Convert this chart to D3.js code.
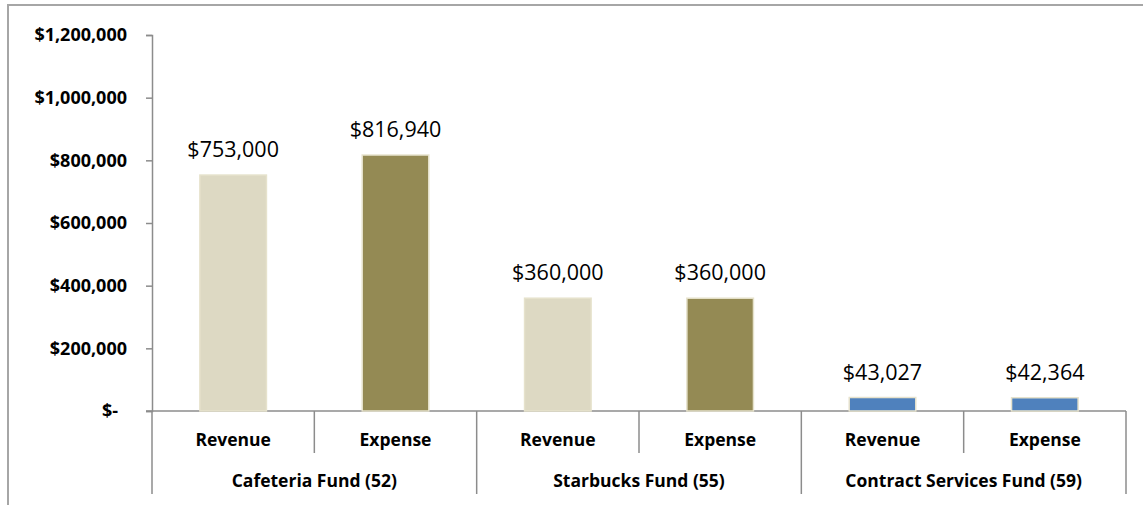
<!DOCTYPE html>
<html>
<head>
<meta charset="utf-8">
<script src="https://cdn.jsdelivr.net/npm/d3@7"></script>
<style>
  html, body { margin: 0; padding: 0; background: #fff; }
  svg { display: block; }
</style>
</head>
<body>
<svg id="chart" width="1143" height="505"></svg>
<script>
// Fund budget figures: revenue and expense per fund
const funds = ["Cafeteria Fund (52)", "Starbucks Fund (55)", "Contract Services Fund (59)"];
const measures = ["Revenue", "Expense"];
const revenueValues = [753000, 360000, 43027];
const expenseValues = [816940, 360000, 42364];
const yTicks = [0, 200000, 400000, 600000, 800000, 1000000, 1200000];

// Fill colours per fund and measure
const fillColors = {
  "Cafeteria Fund (52)": { Revenue: "#DDD9C3", Expense: "#948A54" },
  "Starbucks Fund (55)": { Revenue: "#DDD9C3", Expense: "#948A54" },
  "Contract Services Fund (59)": { Revenue: "#4F81BD", Expense: "#4F81BD" }
};

const rows = [];
funds.forEach((f, i) => {
  rows.push({ fund: f, measure: "Revenue", value: revenueValues[i], key: f + "|Revenue" });
  rows.push({ fund: f, measure: "Expense", value: expenseValues[i], key: f + "|Expense" });
});

const svg = d3.select("#chart");
const axisColor = "#8c8c8c";
const font = "'Open Sans', Lato, sans-serif";

// Outer chart frame (extends past the right and bottom edges)
svg.append("rect")
  .attr("x", 8).attr("y", 5)
  .attr("width", 1160).attr("height", 520)
  .attr("fill", "none")
  .attr("stroke", "#a6a6a6")
  .attr("stroke-width", 2);

const plotLeft = 152, plotRight = 1126, plotTop = 35, plotBottom = 411;

const y = d3.scaleLinear().domain([0, 1200000]).range([plotBottom, plotTop]);
const xGroup = d3.scaleBand().domain(funds).range([plotLeft, plotRight]).padding(0);
const xSlot = d3.scaleBand().domain(measures).range([0, xGroup.bandwidth()]).padding(0);
const barFrac = 0.41;

// Y axis
const yAxis = d3.axisLeft(y)
  .tickValues(yTicks)
  .tickSize(6)
  .tickPadding(19)
  .tickFormat(d => d === 0 ? "$-" : "$" + d3.format(",")(d));

const gy = svg.append("g")
  .attr("transform", `translate(${plotLeft},0)`)
  .call(yAxis);
gy.select(".domain").attr("stroke", axisColor).attr("stroke-width", 1.5);
gy.selectAll(".tick line").attr("stroke", axisColor).attr("stroke-width", 1.5);
gy.selectAll(".tick text")
  .attr("fill", "#000")
  .style("font-family", font)
  .style("font-weight", "bold")
  .style("font-size", "18px")
  .attr("dx", d => d === 0 ? -9 : 0);

// Baseline
svg.append("line")
  .attr("x1", plotLeft - 6).attr("x2", plotRight)
  .attr("y1", y(0)).attr("y2", y(0))
  .attr("stroke", axisColor).attr("stroke-width", 1.5);

// Bars
const slotX = d => xGroup(d.fund) + xSlot(d.measure);
const barW = xSlot.bandwidth() * barFrac;

svg.append("g").selectAll("rect")
  .data(rows)
  .join("rect")
  .attr("x", d => slotX(d) + (xSlot.bandwidth() - barW) / 2)
  .attr("y", d => y(d.value))
  .attr("width", barW)
  .attr("height", d => y(0) - y(d.value))
  .attr("fill", d => fillColors[d.fund][d.measure])
  .attr("stroke", "#E6E2CC")
  .attr("stroke-width", 1.5);

// Value labels
svg.append("g").selectAll("text")
  .data(rows)
  .join("text")
  .attr("x", d => slotX(d) + xSlot.bandwidth() / 2)
  .attr("y", d => y(d.value) - 18)
  .attr("text-anchor", "middle")
  .style("font-family", font)
  .style("font-size", "21.5px")
  .attr("fill", "#000")
  .text(d => "$" + d3.format(",")(d.value));

// Category separators: short ones between measures, long ones between funds
const catG = svg.append("g");
funds.forEach(f => {
  const gx = xGroup(f);
  catG.append("line")
    .attr("x1", gx).attr("x2", gx)
    .attr("y1", y(0)).attr("y2", 494)
    .attr("stroke", axisColor).attr("stroke-width", 1.5);
  const mx = gx + xSlot("Expense");
  catG.append("line")
    .attr("x1", mx).attr("x2", mx)
    .attr("y1", y(0)).attr("y2", 453)
    .attr("stroke", axisColor).attr("stroke-width", 1.5);
});
catG.append("line")
  .attr("x1", plotRight).attr("x2", plotRight)
  .attr("y1", y(0)).attr("y2", 494)
  .attr("stroke", axisColor).attr("stroke-width", 1.5);

// Measure labels
svg.append("g").selectAll("text")
  .data(rows)
  .join("text")
  .attr("x", d => slotX(d) + xSlot.bandwidth() / 2)
  .attr("y", 440)
  .attr("dy", "0.35em")
  .attr("text-anchor", "middle")
  .style("font-family", font)
  .style("font-weight", "bold")
  .style("font-size", "17.5px")
  .text(d => d.measure);

// Fund labels
svg.append("g").selectAll("text")
  .data(funds)
  .join("text")
  .attr("x", d => xGroup(d) + xGroup.bandwidth() / 2)
  .attr("y", 481)
  .attr("dy", "0.35em")
  .attr("text-anchor", "middle")
  .style("font-family", font)
  .style("font-weight", "bold")
  .style("font-size", "17.5px")
  .text(d => d);
</script>
</body>
</html>
